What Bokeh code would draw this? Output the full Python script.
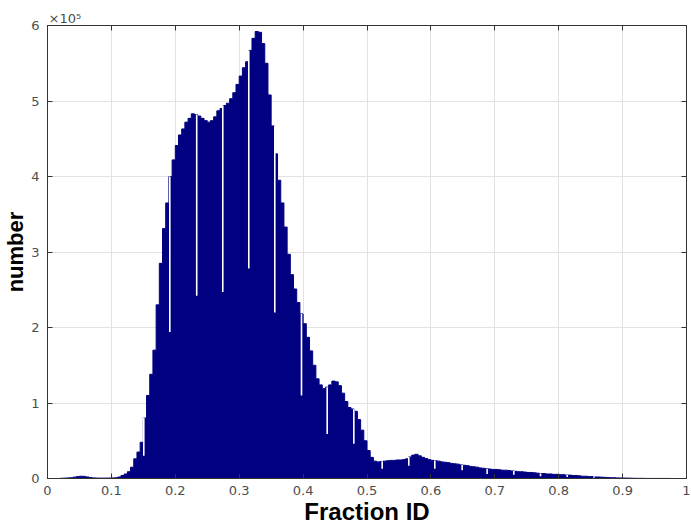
import numpy as np
from bokeh.plotting import figure
from bokeh.models import FixedTicker, LinearAxis, Range1d, CustomJSTickFormatter
from bokeh.embed import file_html
from bokeh.resources import INLINE

# ---------------- data (counts in units of 1e5) ----------------
bin_width = 0.005
count_e5 = [
    0, 0, 0, 0,
    0.003, 0.005, 0.008, 0.01, 0.018, 0.025, 0.03, 0.028, 0.02, 0.012, 0.008, 0.006, 0.005, 0.005, 0.005, 0.006,
    0.008, 0.01, 0.02, 0.04, 0.06, 0.09, 0.15, 0.26, 0.35, 0.48,
    0.80, 1.10, 1.38, 1.70, 2.30, 2.85, 3.31, 3.65, 4.00, 4.22,
    4.41, 4.55, 4.63, 4.72, 4.77, 4.83, 4.82, 4.80, 4.77, 4.74,
    4.72, 4.74, 4.79, 4.87, 4.90, 4.94, 4.97, 5.03, 5.11, 5.22,
    5.33, 5.44, 5.52, 5.67, 5.83, 5.92, 5.91, 5.76, 5.50, 5.08,
    4.67, 4.30, 3.95, 3.65, 3.33, 2.97, 2.70, 2.51, 2.33, 2.18,
    2.05, 1.87, 1.69, 1.50, 1.32, 1.24, 1.19, 1.21, 1.24, 1.29,
    1.28, 1.23, 1.13, 1.02, 0.94, 0.92, 0.89, 0.78, 0.64, 0.50,
    0.37, 0.28, 0.23, 0.22, 0.225, 0.23, 0.235, 0.24, 0.24, 0.245,
    0.245, 0.25, 0.26, 0.285, 0.31, 0.32, 0.30, 0.28, 0.265, 0.25,
    0.24, 0.235, 0.23, 0.22, 0.215, 0.21, 0.20, 0.195, 0.19, 0.18,
    0.175, 0.17, 0.16, 0.155, 0.15, 0.14, 0.135, 0.13, 0.125, 0.12,
    0.12, 0.115, 0.11, 0.11, 0.105, 0.10, 0.095, 0.09, 0.09, 0.085,
    0.08, 0.08, 0.075, 0.07, 0.065, 0.065, 0.06, 0.06, 0.055, 0.055,
    0.05, 0.05, 0.045, 0.045, 0.04, 0.04, 0.035, 0.03, 0.03, 0.025,
    0.025, 0.02, 0.02, 0.018, 0.015, 0.012, 0.01, 0.01, 0.008, 0.007,
    0.006, 0.005, 0.004, 0.003, 0.002, 0.002, 0.002, 0.001, 0.001, 0.001,
    0.001, 0.001, 0.001, 0.001, 0.001, 0, 0, 0, 0, 0,
]

# narrow low-count bins (the white notches)
dip_x = [0.1507, 0.1914, 0.2335, 0.2743, 0.3150, 0.3557, 0.3975, 0.4377, 0.4794,
         0.5238, 0.5654, 0.6061, 0.6489, 0.6880, 0.7297, 0.7715, 0.8133, 0.8550]
dip_e5 = [0.30, 1.94, 2.42, 2.47, 2.78, 2.20, 1.10, 0.59, 0.46,
          0.13, 0.17, 0.13, 0.11, 0.06, 0.05, 0.03, 0.02, 0.01]

x_ticks = [0, 0.1, 0.2, 0.3, 0.4, 0.5, 0.6, 0.7, 0.8, 0.9, 1]
x_tick_labels = ["0", "0.1", "0.2", "0.3", "0.4", "0.5", "0.6", "0.7", "0.8", "0.9", "1"]
y_ticks = [0, 1, 2, 3, 4, 5, 6]

# ---------------- derived geometry ----------------
counts = np.array(count_e5, dtype=float)
n = len(counts)
edges = np.arange(n + 1) * bin_width
step_y = np.append(counts, counts[-1])

dx = np.array(dip_x)
lo = np.clip(np.floor((dx - 0.0012) / bin_width).astype(int), 0, n - 1)
hi = np.clip(np.floor((dx + 0.0012) / bin_width).astype(int), 0, n - 1)
dip_top = np.maximum(counts[lo], counts[hi])

# ---------------- figure ----------------
AX = "#333333"
TICKC = "#4d4d4d"
BAR = "#000080"
p = figure(width=691, height=527, x_range=Range1d(0, 1), y_range=Range1d(0, 6),
           output_backend="svg", toolbar_location=None,
           min_border_left=47, min_border_right=5, min_border_top=25, min_border_bottom=49)
p.background_fill_color = "white"
p.border_fill_color = "white"
p.outline_line_color = AX
p.outline_line_width = 1

# histogram bars as one solid stepped area (no seams between bins)
p.varea_step(x=edges, y1=0, y2=step_y, step_mode="after", fill_color=BAR)
p.step(x=edges, y=step_y, mode="after", line_color=BAR, line_width=1)
p.segment(x0=dx, y0=dip_e5, x1=dx, y1=dip_top, line_color="white", line_width=1.6)

# grid
p.xgrid.ticker = FixedTicker(ticks=x_ticks)
p.ygrid.ticker = FixedTicker(ticks=y_ticks)
for g in (p.xgrid, p.ygrid):
    g.grid_line_color = "#e2e2e2"
    g.grid_line_width = 1

# bottom axis
xa = p.xaxis[0]
xa.ticker = FixedTicker(ticks=x_ticks)
xa.major_label_overrides = dict(zip(x_ticks, x_tick_labels))
xa.axis_label = "Fraction ID"
xa.axis_label_text_font = "Liberation Sans"
xa.axis_label_text_font_style = "bold"
xa.axis_label_text_font_size = "24px"
xa.axis_label_text_color = "black"
xa.axis_label_standoff = 0
xa.major_label_standoff = 7

# left axis
ya = p.yaxis[0]
ya.ticker = FixedTicker(ticks=y_ticks)
ya.axis_label = "number"
ya.axis_label_text_font = "Liberation Sans"
ya.axis_label_text_font_style = "bold"
ya.axis_label_text_font_size = "22px"
ya.axis_label_text_color = "black"
ya.axis_label_standoff = 0
ya.major_label_standoff = 8

for a in (xa, ya):
    a.axis_line_color = AX
    a.major_tick_line_color = AX
    a.major_tick_in = 5
    a.major_tick_out = 0
    a.minor_tick_line_color = None
    a.major_label_text_font = "DejaVu Sans"
    a.major_label_text_font_size = "13px"
    a.major_label_text_color = TICKC

# box ticks on top and right (no labels)
blank = CustomJSTickFormatter(code="return ''")
top_ax = LinearAxis(ticker=FixedTicker(ticks=x_ticks), formatter=blank)
right_ax = LinearAxis(ticker=FixedTicker(ticks=y_ticks), formatter=blank)
for a in (top_ax, right_ax):
    a.axis_line_color = AX
    a.major_tick_line_color = AX
    a.major_tick_in = 5
    a.major_tick_out = 0
    a.minor_tick_line_color = None
    a.major_label_standoff = 0
p.add_layout(top_ax, "above")
p.add_layout(right_ax, "right")

# exponent as the title
p.title.text = "×10⁵"
p.title.align = "left"
p.title.offset = 1
p.title.standoff = 0
p.title.text_font = "DejaVu Sans"
p.title.text_font_size = "13px"
p.title.text_font_style = "normal"
p.title.text_color = TICKC

open("out.html", "w").write(file_html(p, INLINE))
